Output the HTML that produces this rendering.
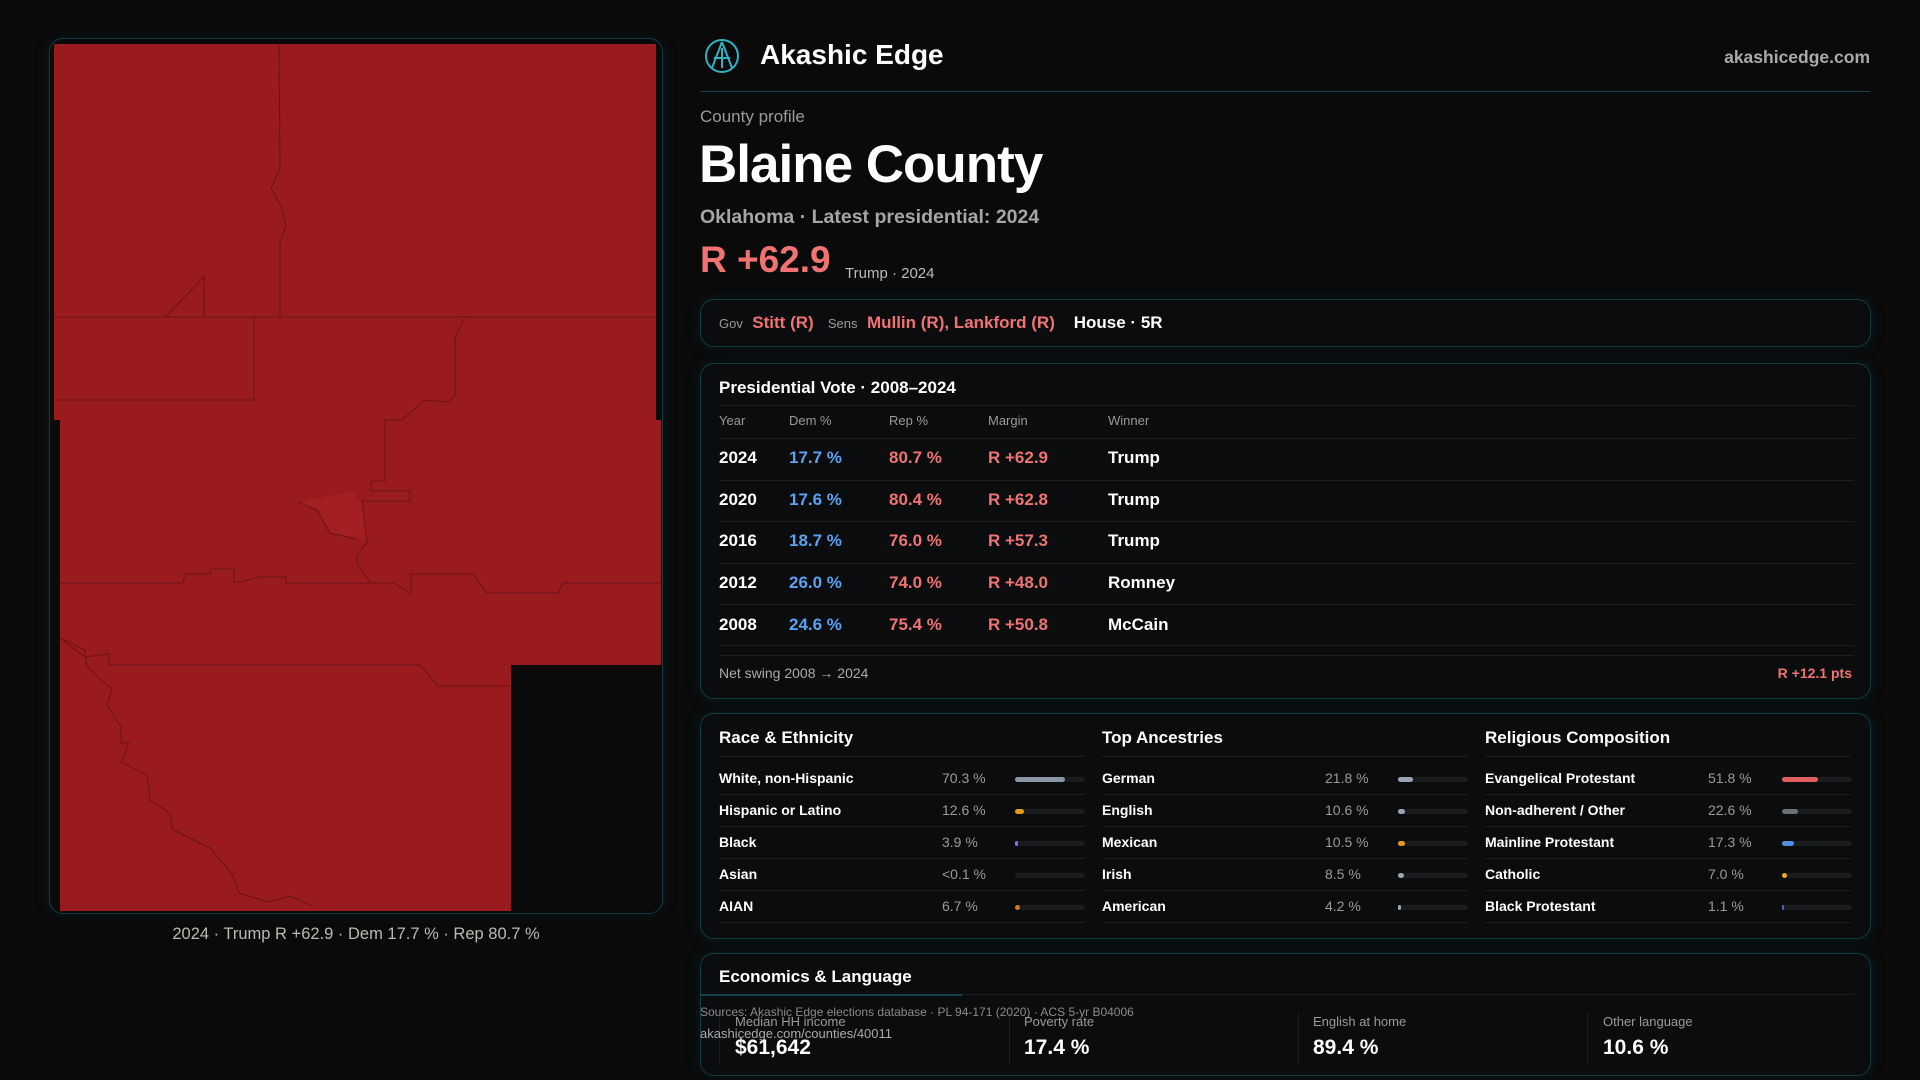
<!DOCTYPE html>
<html><head><meta charset="utf-8"><style>
*{margin:0;padding:0;box-sizing:border-box}
body{width:1920px;height:1080px;background:#0a0a0b;font-family:"Liberation Sans",sans-serif;color:#fff;position:relative;overflow:hidden}
.a{position:absolute;white-space:nowrap}
.box{position:absolute;border:1px solid #123c44;border-radius:14px;background:#0b0c0d;box-shadow:0 0 14px rgba(20,80,90,.25)}
.r{color:#f07272}.b{color:#5aa2f2}.g{color:#9a9a9a}
.bar{position:absolute;height:5px;width:70px;background:#1b1c1e;border-radius:3px}
.bar i{position:absolute;left:0;top:0;height:5px;border-radius:3px}
.hl{position:absolute;height:1px;background:#1c1e20}
</style></head><body>
<div class="box" style="left:49px;top:38px;width:614px;height:876px;background:#0a0a0b"></div>
<svg class="a" style="left:0;top:0" width="700" height="920">
<path d="M54 44H656V420H661V665H511V911H60V420H54Z" fill="#9a1b1e"/>
<path d="M298 502l19 8 13 23 27 6 10 3-5-41h-7v-10Z" fill="#a31f22"/>
<g fill="none" stroke="#6a1315" stroke-width="1">
<path d="M279 43L280 169 271 188 281 207 286 226 280 242 280 317"/>
<path d="M54 317H656"/>
<path d="M165 317L204 277V317"/>
<path d="M254 317V400H54"/>
<path d="M464 319L455 338V395L449 402 424 400 402 420H385V481H371V491H410V501H362L367 542 357 555V564L370 582"/>
<path d="M298 502l19 8 13 23 27 6"/>
<path d="M60 583H183l2-9h25v-5h24v13h6l20-5h26V583H393l18 10V574h62l14 19h71l5-10h98"/>
<path d="M60 638L85 657 109 654V665H420L438 686H510"/>
<path d="M60 638L85 650 87 667 112 689 107 705 121 727V743h8L121 762 147 775 150 800 170 813 172 829 210 848 232 874 239 893 268 902 290 896 312 906"/>
</g></svg>
<div class="a" style="left:0;width:712px;top:925px;text-align:center;font-size:16.5px;color:#bdb8b0">2024 · Trump R +62.9 · Dem 17.7 % · Rep 80.7 %</div>

<svg class="a" style="left:704px;top:38px" width="36" height="36" viewBox="0 0 36 36"><circle cx="18" cy="18" r="16" fill="none" stroke="#2fb3c0" stroke-width="2"/><path d="M18 4L8 30M18 4l10 26M10 20h16M18 10v20" stroke="#2fb3c0" stroke-width="2" fill="none"/></svg>
<div class="a" style="left:760px;top:39px;font-size:28px;font-weight:bold">Akashic Edge</div>
<div class="a" style="right:50px;top:47px;font-size:17.5px;color:#aaa;font-weight:bold">akashicedge.com</div>
<div class="a" style="left:700px;top:91px;width:1170px;height:1px;background:#12424a"></div>
<div class="a g" style="left:700px;top:107px;font-size:17px">County profile</div>
<div class="a" style="left:699px;top:134px;font-size:53px;font-weight:bold;letter-spacing:-1px">Blaine County</div>
<div class="a" style="left:700px;top:206px;font-size:19.5px;color:#a8a6a2;font-weight:bold">Oklahoma · Latest presidential: 2024</div>
<div class="a r" style="left:700px;top:239px;font-size:37px;font-weight:bold">R +62.9</div>
<div class="a" style="left:845px;top:265px;font-size:15px;color:#bbb">Trump · 2024</div>

<div class="box" style="left:700px;top:299px;width:1171px;height:48px"></div>
<div class="a" style="left:719px;top:313px;font-size:17px;font-weight:bold"><span class="g" style="font-size:13px;font-weight:normal">Gov</span>&nbsp; <span class="r">Stitt (R)</span>&nbsp;&nbsp; <span class="g" style="font-size:13px;font-weight:normal">Sens</span>&nbsp; <span class="r">Mullin (R), Lankford (R)</span>&nbsp;&nbsp;&nbsp; House · 5R</div>

<div class="box" style="left:700px;top:363px;width:1171px;height:336px"></div>
<div class="a" style="left:719px;top:378px;font-size:17px;font-weight:bold">Presidential Vote · 2008–2024</div>
<div class="hl" style="left:719px;width:1135px;top:405px"></div>
<div class="a g" style="left:719px;top:413px;font-size:13px">Year</div>
<div class="a g" style="left:789px;top:413px;font-size:13px">Dem %</div>
<div class="a g" style="left:889px;top:413px;font-size:13px">Rep %</div>
<div class="a g" style="left:988px;top:413px;font-size:13px">Margin</div>
<div class="a g" style="left:1108px;top:413px;font-size:13px">Winner</div>
<div class="hl" style="left:719px;width:1135px;top:438px"></div>
<div style="position:absolute;left:719px;top:448px;font-size:17px;font-weight:bold">
<div style="position:relative;height:42px"><span class="a">2024</span><span class="a b" style="left:70px">17.7 %</span><span class="a r" style="left:170px">80.7 %</span><span class="a r" style="left:269px">R +62.9</span><span class="a" style="left:389px">Trump</span></div>
<div style="position:relative;height:41px"><span class="a">2020</span><span class="a b" style="left:70px">17.6 %</span><span class="a r" style="left:170px">80.4 %</span><span class="a r" style="left:269px">R +62.8</span><span class="a" style="left:389px">Trump</span></div>
<div style="position:relative;height:42px"><span class="a">2016</span><span class="a b" style="left:70px">18.7 %</span><span class="a r" style="left:170px">76.0 %</span><span class="a r" style="left:269px">R +57.3</span><span class="a" style="left:389px">Trump</span></div>
<div style="position:relative;height:42px"><span class="a">2012</span><span class="a b" style="left:70px">26.0 %</span><span class="a r" style="left:170px">74.0 %</span><span class="a r" style="left:269px">R +48.0</span><span class="a" style="left:389px">Romney</span></div>
<div style="position:relative;height:42px"><span class="a">2008</span><span class="a b" style="left:70px">24.6 %</span><span class="a r" style="left:170px">75.4 %</span><span class="a r" style="left:269px">R +50.8</span><span class="a" style="left:389px">McCain</span></div>
</div>
<div class="hl" style="left:719px;width:1135px;top:480px"></div><div class="hl" style="left:719px;width:1135px;top:521px"></div><div class="hl" style="left:719px;width:1135px;top:563px"></div><div class="hl" style="left:719px;width:1135px;top:604px"></div><div class="hl" style="left:719px;width:1135px;top:645px"></div><div class="hl" style="left:719px;width:1135px;top:655px"></div>
<div class="a" style="left:719px;top:665px;font-size:14px;color:#aaa">Net swing 2008 → 2024</div>
<div class="a r" style="right:68px;top:665px;font-size:14px;font-weight:bold">R +12.1 pts</div>

<div class="box" style="left:700px;top:713px;width:1171px;height:226px"></div>
<div class="a" style="left:719px;top:728px;font-size:17px;font-weight:bold">Race &amp; Ethnicity</div>
<div class="a" style="left:1102px;top:728px;font-size:17px;font-weight:bold">Top Ancestries</div>
<div class="a" style="left:1485px;top:728px;font-size:17px;font-weight:bold">Religious Composition</div>
<div style="position:absolute;left:0;top:0;font-size:14px">
<div class="hl" style="left:719px;width:366px;top:756px"></div><div class="hl" style="left:1102px;width:366px;top:756px"></div><div class="hl" style="left:1485px;width:366px;top:756px"></div>
<span class="a" style="left:719px;top:770px;font-weight:bold">White, non-Hispanic</span><span class="a g" style="left:942px;top:770px">70.3 %</span><div class="bar" style="left:1015px;top:777px"><i style="width:50px;background:#8a95a6"></i></div>
<span class="a" style="left:719px;top:802px;font-weight:bold">Hispanic or Latino</span><span class="a g" style="left:942px;top:802px">12.6 %</span><div class="bar" style="left:1015px;top:809px"><i style="width:9px;background:#e39a1a"></i></div>
<span class="a" style="left:719px;top:834px;font-weight:bold">Black</span><span class="a g" style="left:942px;top:834px">3.9 %</span><div class="bar" style="left:1015px;top:841px"><i style="width:3px;background:#8c6ee0"></i></div>
<span class="a" style="left:719px;top:866px;font-weight:bold">Asian</span><span class="a g" style="left:942px;top:866px">&lt;0.1 %</span><div class="bar" style="left:1015px;top:873px"></div>
<span class="a" style="left:719px;top:898px;font-weight:bold">AIAN</span><span class="a g" style="left:942px;top:898px">6.7 %</span><div class="bar" style="left:1015px;top:905px"><i style="width:5px;background:#d9761a"></i></div>

<span class="a" style="left:1102px;top:770px;font-weight:bold">German</span><span class="a g" style="left:1325px;top:770px">21.8 %</span><div class="bar" style="left:1398px;top:777px"><i style="width:15px;background:#9aa4b4"></i></div>
<span class="a" style="left:1102px;top:802px;font-weight:bold">English</span><span class="a g" style="left:1325px;top:802px">10.6 %</span><div class="bar" style="left:1398px;top:809px"><i style="width:7px;background:#9aa4b4"></i></div>
<span class="a" style="left:1102px;top:834px;font-weight:bold">Mexican</span><span class="a g" style="left:1325px;top:834px">10.5 %</span><div class="bar" style="left:1398px;top:841px"><i style="width:7px;background:#e39a1a"></i></div>
<span class="a" style="left:1102px;top:866px;font-weight:bold">Irish</span><span class="a g" style="left:1325px;top:866px">8.5 %</span><div class="bar" style="left:1398px;top:873px"><i style="width:6px;background:#9aa4b4"></i></div>
<span class="a" style="left:1102px;top:898px;font-weight:bold">American</span><span class="a g" style="left:1325px;top:898px">4.2 %</span><div class="bar" style="left:1398px;top:905px"><i style="width:3px;background:#9aa4b4"></i></div>

<span class="a" style="left:1485px;top:770px;font-weight:bold">Evangelical Protestant</span><span class="a g" style="left:1708px;top:770px">51.8 %</span><div class="bar" style="left:1782px;top:777px"><i style="width:36px;background:#e06060"></i></div>
<span class="a" style="left:1485px;top:802px;font-weight:bold">Non-adherent / Other</span><span class="a g" style="left:1708px;top:802px">22.6 %</span><div class="bar" style="left:1782px;top:809px"><i style="width:16px;background:#6a6f78"></i></div>
<span class="a" style="left:1485px;top:834px;font-weight:bold">Mainline Protestant</span><span class="a g" style="left:1708px;top:834px">17.3 %</span><div class="bar" style="left:1782px;top:841px"><i style="width:12px;background:#4f8fe0"></i></div>
<span class="a" style="left:1485px;top:866px;font-weight:bold">Catholic</span><span class="a g" style="left:1708px;top:866px">7.0 %</span><div class="bar" style="left:1782px;top:873px"><i style="width:5px;background:#e3b01a"></i></div>
<span class="a" style="left:1485px;top:898px;font-weight:bold">Black Protestant</span><span class="a g" style="left:1708px;top:898px">1.1 %</span><div class="bar" style="left:1782px;top:905px"><i style="width:2px;background:#5a5fd0"></i></div>
</div>
<div class="hl" style="left:719px;width:366px;top:794px"></div><div class="hl" style="left:1102px;width:366px;top:794px"></div><div class="hl" style="left:1485px;width:366px;top:794px"></div>
<div class="hl" style="left:719px;width:366px;top:826px"></div><div class="hl" style="left:1102px;width:366px;top:826px"></div><div class="hl" style="left:1485px;width:366px;top:826px"></div>
<div class="hl" style="left:719px;width:366px;top:858px"></div><div class="hl" style="left:1102px;width:366px;top:858px"></div><div class="hl" style="left:1485px;width:366px;top:858px"></div>
<div class="hl" style="left:719px;width:366px;top:890px"></div><div class="hl" style="left:1102px;width:366px;top:890px"></div><div class="hl" style="left:1485px;width:366px;top:890px"></div>
<div class="hl" style="left:719px;width:366px;top:922px"></div><div class="hl" style="left:1102px;width:366px;top:922px"></div><div class="hl" style="left:1485px;width:366px;top:922px"></div>

<div class="box" style="left:700px;top:953px;width:1171px;height:123px"></div>
<div class="a" style="left:719px;top:967px;font-size:17px;font-weight:bold">Economics &amp; Language</div>
<div class="hl" style="left:719px;width:1135px;top:994px"></div>
<div class="a" style="left:700px;top:994px;width:262px;height:2px;background:#12424a"></div>
<div class="a" style="left:1009px;top:1013px;width:1px;height:52px;background:#1c1e20"></div>
<div class="a" style="left:1298px;top:1013px;width:1px;height:52px;background:#1c1e20"></div>
<div class="a" style="left:1587px;top:1013px;width:1px;height:52px;background:#1c1e20"></div>
<div class="a" style="left:719px;top:1013px;width:1px;height:52px;background:#1c1e20"></div>
<div class="a g" style="left:735px;top:1014px;font-size:13px">Median HH income</div>
<div class="a g" style="left:1024px;top:1014px;font-size:13px">Poverty rate</div>
<div class="a g" style="left:1313px;top:1014px;font-size:13px">English at home</div>
<div class="a g" style="left:1603px;top:1014px;font-size:13px">Other language</div>
<div class="a" style="left:735px;top:1036px;font-size:21px;font-weight:bold">$61,642</div>
<div class="a" style="left:1024px;top:1036px;font-size:21px;font-weight:bold">17.4 %</div>
<div class="a" style="left:1313px;top:1036px;font-size:21px;font-weight:bold">89.4 %</div>
<div class="a" style="left:1603px;top:1036px;font-size:21px;font-weight:bold">10.6 %</div>
<div class="a" style="left:700px;top:1005px;font-size:12px;color:#8a8a8a">Sources: Akashic Edge elections database · PL 94-171 (2020) · ACS 5-yr B04006</div>
<div class="a" style="left:700px;top:1026px;font-size:13px;color:#aaa">akashicedge.com/counties/40011</div>
</body></html>
